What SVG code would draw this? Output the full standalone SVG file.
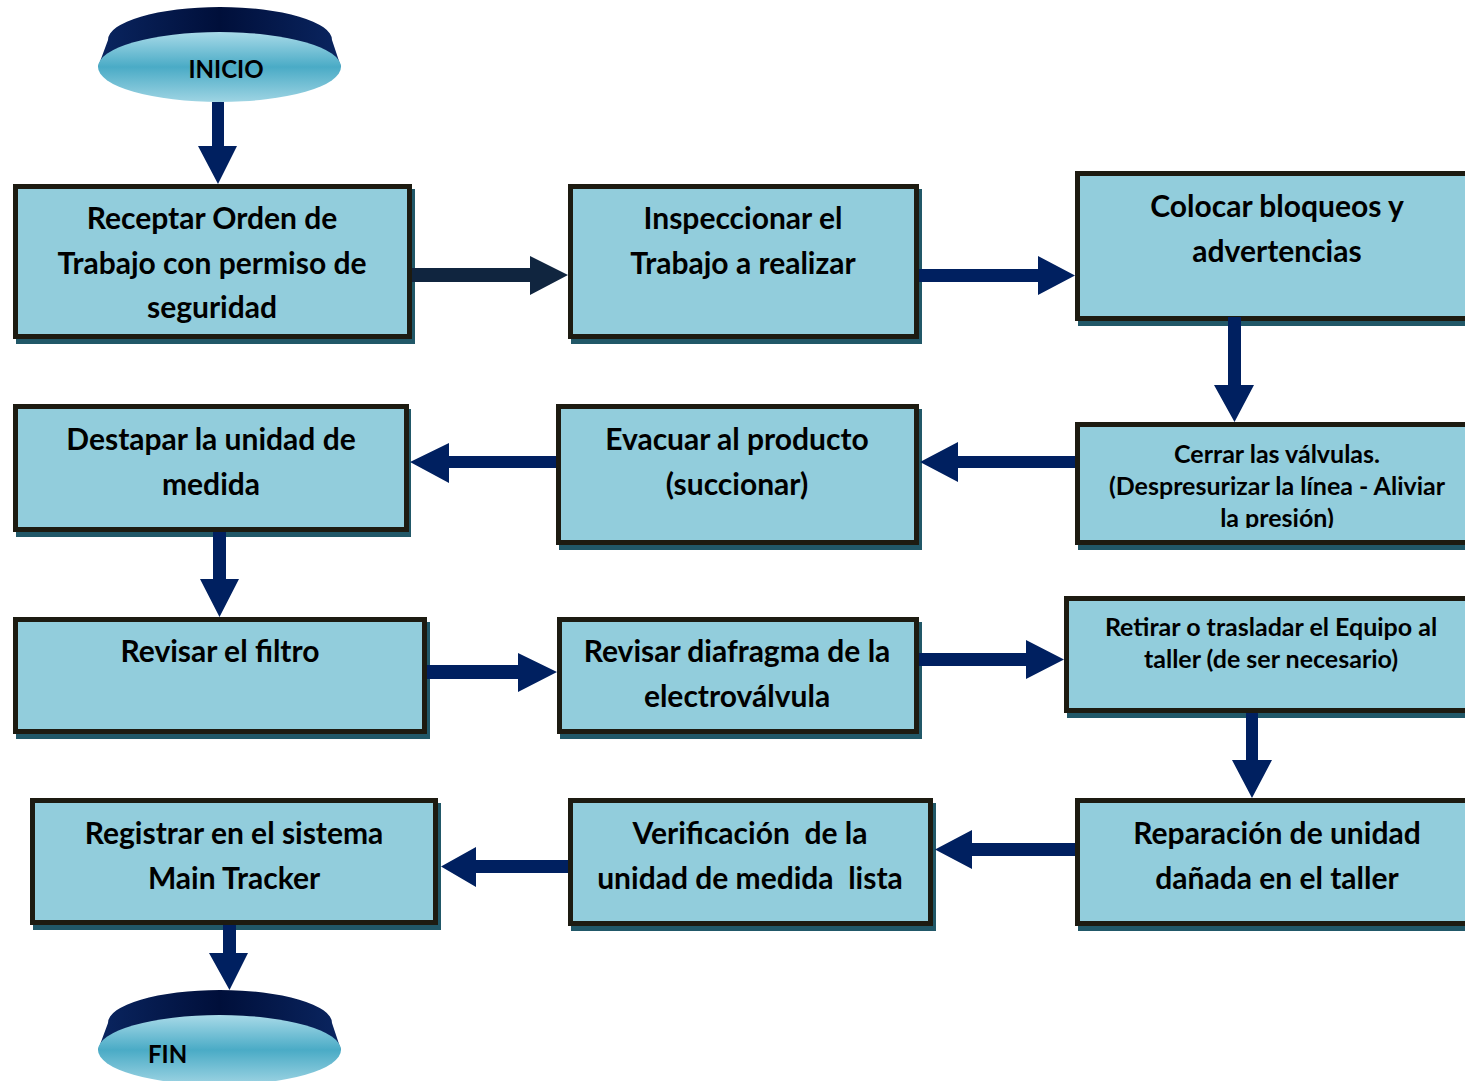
<svg xmlns="http://www.w3.org/2000/svg" width="1465" height="1081" viewBox="0 0 1465 1081">
<defs>
<linearGradient id="face" x1="0" y1="0" x2="0" y2="1">
<stop offset="0" stop-color="#a8dae8"/>
<stop offset="0.5" stop-color="#4aabc6"/>
<stop offset="1" stop-color="#9ed4e3"/>
</linearGradient>
<linearGradient id="rim" x1="0" y1="0" x2="1" y2="0">
<stop offset="0" stop-color="#0a2560"/>
<stop offset="0.5" stop-color="#000f3a"/>
<stop offset="1" stop-color="#0a2560"/>
</linearGradient>
<clipPath id="c6"><rect x="1080" y="427" width="400" height="101"/></clipPath>
</defs>
<style>
.sh{fill:#215868}
.bx{fill:#92cddc;stroke:#1d1b11;stroke-width:5}
.t{font-family:Lato,"Open Sans",sans-serif;font-weight:bold;font-size:30px;fill:#000;text-anchor:middle}
.s{font-size:25px}
.ar{fill:#002060}
</style>
<rect width="1465" height="1081" fill="#fff"/>

<g id="inicio">
<path d="M98,67 L108,40 A112,33 0 0 1 332,40 L341,67 Z" fill="url(#rim)"/>
<ellipse cx="219.5" cy="67" rx="121.5" ry="35" fill="url(#face)"/>
<text class="t" x="226" y="78" style="font-size:24px">INICIO</text>
</g>

<g id="fin">
<path d="M98,1050 L108,1023 A112,33 0 0 1 332,1023 L341,1050 Z" fill="url(#rim)"/>
<ellipse cx="219.5" cy="1050" rx="121.5" ry="35" fill="url(#face)"/>
<text class="t" x="148" y="1063" style="font-size:24px;text-anchor:start">FIN</text>
</g>

<g id="n1">
<rect class="sh" x="16" y="189" width="399" height="155"/>
<rect class="bx" x="15.5" y="186.5" width="394" height="150"/>
<text class="t" x="212" y="229">Receptar Orden de</text>
<text class="t" x="212" y="274">Trabajo con permiso de</text>
<text class="t" x="212" y="318">seguridad</text>
</g>

<g id="n2">
<rect class="sh" x="571" y="189" width="351" height="155"/>
<rect class="bx" x="570.5" y="186.5" width="346" height="150"/>
<text class="t" x="743" y="229">Inspeccionar el</text>
<text class="t" x="743" y="274">Trabajo a realizar</text>
</g>

<g id="n3">
<rect class="sh" x="1078" y="176" width="404" height="150"/>
<rect class="bx" x="1077.5" y="173.5" width="399" height="145"/>
<text class="t" x="1277" y="217">Colocar bloqueos y</text>
<text class="t" x="1277" y="262">advertencias</text>
</g>

<g id="n4">
<rect class="sh" x="16" y="409" width="395" height="128"/>
<rect class="bx" x="15.5" y="406.5" width="391" height="123"/>
<text class="t" x="211" y="450">Destapar la unidad de</text>
<text class="t" x="211" y="495">medida</text>
</g>

<g id="n5">
<rect class="sh" x="559" y="409" width="363" height="141"/>
<rect class="bx" x="558.5" y="406.5" width="358" height="136"/>
<text class="t" x="737" y="450">Evacuar al producto</text>
<text class="t" x="737" y="495">(succionar)</text>
</g>

<g id="n6">
<rect class="sh" x="1078" y="427" width="404" height="123"/>
<rect class="bx" x="1077.5" y="424.5" width="399" height="118"/>
<g clip-path="url(#c6)">
<text class="t s" x="1277" y="463">Cerrar las válvulas.</text>
<text class="t s" x="1277" y="495">(Despresurizar la línea - Aliviar</text>
<text class="t s" x="1277" y="527">la presión)</text>
</g>
</g>

<g id="n7">
<rect class="sh" x="16" y="622" width="414" height="117"/>
<rect class="bx" x="15.5" y="619.5" width="409" height="112"/>
<text class="t" x="220" y="662">Revisar el filtro</text>
</g>

<g id="n8">
<rect class="sh" x="560" y="622" width="362" height="117"/>
<rect class="bx" x="559.5" y="619.5" width="357" height="112"/>
<text class="t" x="737" y="662">Revisar diafragma de la</text>
<text class="t" x="737" y="707">electroválvula</text>
</g>

<g id="n9">
<rect class="sh" x="1067" y="601" width="414" height="117"/>
<rect class="bx" x="1066.5" y="598.5" width="409" height="112"/>
<text class="t s" x="1271" y="636">Retirar o trasladar el Equipo al</text>
<text class="t s" x="1271" y="668">taller (de ser necesario)</text>
</g>

<g id="n10">
<rect class="sh" x="33" y="803" width="408" height="127"/>
<rect class="bx" x="32.5" y="800.5" width="403" height="122"/>
<text class="t" x="234" y="844">Registrar en el sistema</text>
<text class="t" x="234" y="889">Main Tracker</text>
</g>

<g id="n11">
<rect class="sh" x="571" y="803" width="365" height="128"/>
<rect class="bx" x="570.5" y="800.5" width="360" height="123"/>
<text class="t" x="750" y="844" xml:space="preserve">Verificación  de la</text>
<text class="t" x="750" y="889" xml:space="preserve">unidad de medida  lista</text>
</g>

<g id="n12">
<rect class="sh" x="1078" y="803" width="404" height="128"/>
<rect class="bx" x="1077.5" y="800.5" width="399" height="123"/>
<text class="t" x="1277" y="844">Reparación de unidad</text>
<text class="t" x="1277" y="889">dañada en el taller</text>
</g>

<g id="connectors">
<polygon class="ar" points="212,102 224,102 224,146 237,146 218,184 198,146 212,146"/>
<polygon points="412,268 530,268 530,256 568,275 530,295 530,282 412,282" fill="#10253f"/>
<polygon class="ar" points="919,269 1038,269 1038,256 1075,275.5 1038,295 1038,282 919,282"/>
<polygon class="ar" points="1228,317 1241,317 1241,385 1254,385 1234.5,422 1214,385 1228,385"/>
<polygon class="ar" points="1075,456 958,456 958,442 920,462 958,482 958,468 1075,468"/>
<polygon class="ar" points="556,456 449,456 449,443 410,462 449,483 449,468 556,468"/>
<polygon class="ar" points="213,532 226,532 226,579 239,579 219.5,617 200,579 213,579"/>
<polygon class="ar" points="427,665 518,665 518,653 557,672 518,692 518,679 427,679"/>
<polygon class="ar" points="919,653 1026,653 1026,640 1064,659.5 1026,679 1026,666 919,666"/>
<polygon class="ar" points="1246,713 1258,713 1258,760 1272,760 1252,798 1232,760 1246,760"/>
<polygon class="ar" points="1075,843 972,843 972,830 935,849.5 972,869 972,856 1075,856"/>
<polygon class="ar" points="568,860 476,860 476,847 441,866.5 476,887 476,873 568,873"/>
<polygon class="ar" points="223,925 236,925 236,953 248,953 229.5,990 209,953 223,953"/>
</g>
</svg>
